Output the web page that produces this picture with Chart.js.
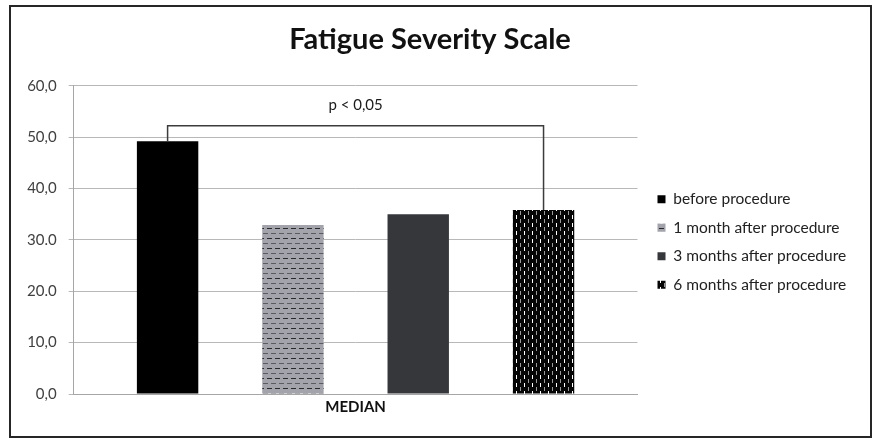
<!DOCTYPE html>
<html>
<head>
<meta charset="utf-8">
<script src="https://cdn.jsdelivr.net/npm/chart.js@4"></script>
<style>
  body { margin: 0; background: #fff; }
  #frame {
    position: absolute; left: 9px; top: 5px;
    width: 859px; height: 429px;
    border: 2px solid #262626;
  }
</style>
</head>
<body>
<div id="frame"><canvas id="fss" width="859" height="429"></canvas></div>
<script>
const categories = ["MEDIAN"];
const seriesNames = ["before procedure", "1 month after procedure", "3 months after procedure", "6 months after procedure"];
const seriesValues = [49.2, 32.9, 35.0, 35.8];
const tickLabels = ["0,0", "10,0", "20.0", "30.0", "40,0", "50,0", "60,0"];
const pLabel = "p < 0,05";
const bracketLevel = 52.2;

const FONT = "Lato, 'Open Sans', sans-serif";

// little tiles for the hatched bars
function makePattern(w, h, draw) {
  const c = document.createElement("canvas");
  c.width = w; c.height = h;
  draw(c.getContext("2d"));
  return c.getContext("2d").createPattern(c, "repeat");
}

const dashGray = makePattern(8, 10, (g) => {
  g.fillStyle = "#a3a4ab"; g.fillRect(0, 0, 8, 10);
  g.fillStyle = "#2a2a2e"; g.fillRect(0, 1, 5, 1);
  g.fillStyle = "#5a5b60"; g.fillRect(4, 6, 5, 1);
  g.fillRect(-4, 6, 5, 1);
});

const dashBlack = makePattern(8, 8, (g) => {
  g.fillStyle = "#050505"; g.fillRect(0, 0, 8, 8);
  g.fillStyle = "#ffffff"; g.fillRect(1, 0, 1, 4);
  g.fillStyle = "#9a9a9a"; g.fillRect(5, 4, 1, 4);
});

const fills = ["#000000", dashGray, "#36373b", dashBlack];

const bracketPlugin = {
  id: "bracket",
  afterDatasetsDraw(chart) {
    const ctx = chart.ctx;
    const y = chart.scales.y;
    const a = chart.getDatasetMeta(0).data[0];
    const b = chart.getDatasetMeta(3).data[0];
    const top = y.getPixelForValue(bracketLevel);
    ctx.save();
    ctx.strokeStyle = "#3c3c3c";
    ctx.lineWidth = 1.5;
    ctx.beginPath();
    ctx.moveTo(a.x, a.y);
    ctx.lineTo(a.x, top);
    ctx.lineTo(b.x, top);
    ctx.lineTo(b.x, b.y);
    ctx.stroke();
    ctx.fillStyle = "#1a1a1a";
    ctx.font = "15px " + FONT;
    ctx.textAlign = "center";
    ctx.textBaseline = "middle";
    ctx.fillText(pLabel, (a.x + b.x) / 2, top - 21);
    ctx.restore();
  }
};

// push the legend a little away from the plot, like the original
const legendNudge = {
  id: "legendNudge",
  afterLayout(chart) {
    const l = chart.legend;
    l.left += 7; l.right += 7;
    l.top += 2; l.bottom += 2;
  }
};

new Chart(document.getElementById("fss"), {
  type: "bar",
  data: {
    labels: categories,
    datasets: seriesNames.map((name, i) => ({
      label: name,
      data: [seriesValues[i]],
      backgroundColor: fills[i],
      borderWidth: 0,
    })),
  },
  options: {
    responsive: false,
    animation: false,
    categoryPercentage: 0.889,
    barPercentage: 0.49,
    layout: { padding: { left: 4, right: 25, bottom: 16, top: 0 } },
    plugins: {
      title: {
        display: true,
        text: "Fatigue Severity Scale",
        color: "#111",
        font: { family: FONT, size: 29, weight: "bold" },
        padding: { top: 15, bottom: 29 },
      },
      legend: {
        position: "right",
        fullSize: false,
        labels: {
          boxWidth: 8,
          boxHeight: 8,
          padding: 13,
          color: "#222",
          font: { family: FONT, size: 15.5 },
        },
      },
      tooltip: { enabled: false },
    },
    scales: {
      x: {
        grid: { display: false, drawTicks: false },
        border: { display: true, color: "#a6a6a6", width: 1 },
        ticks: { color: "#111", padding: 4, font: { family: FONT, size: 15, weight: "bold" } },
      },
      y: {
        min: 0,
        max: 60,
        ticks: {
          stepSize: 10,
          padding: 12,
          color: "#404040",
          font: { family: FONT, size: 15 },
          callback: (v, i) => tickLabels[i],
        },
        grid: { color: "#b8b8b8", lineWidth: 1, tickLength: 5 },
        border: { display: true, color: "#a6a6a6", width: 1 },
      },
    },
  },
  plugins: [bracketPlugin, legendNudge],
});
</script>
</body>
</html>
